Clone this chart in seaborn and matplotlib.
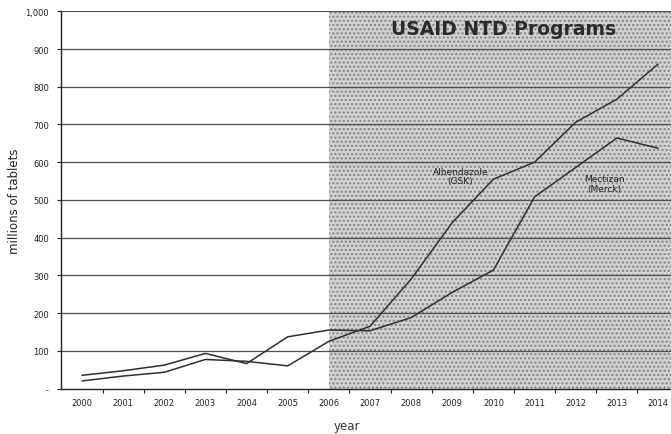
import matplotlib
matplotlib.use("Agg")
import matplotlib.pyplot as plt
import seaborn as sns
import pandas as pd
from matplotlib.ticker import FixedLocator

years = list(range(2000, 2015))
albendazole = [20, 33, 43, 77, 72, 60, 125, 165, 290, 440, 555, 600, 706, 767, 860]
mectizan = [35, 47, 62, 93, 66, 137, 155, 153, 188, 255, 314, 508, 586, 664, 637]
ytick_vals = [0, 100, 200, 300, 400, 500, 600, 700, 800, 900, 1000]
ytick_labels = ["-", "100", "200", "300", "400", "500", "600", "700", "800", "900", "1,000"]

df = pd.DataFrame({
    "year": years * 2,
    "tablets": albendazole + mectizan,
    "drug": ["Albendazole (GSK)"] * len(years) + ["Mectizan (Merck)"] * len(years),
})

sns.set_theme(style="white")
plt.rcParams["font.family"] = ["DejaVu Sans"]

fig = plt.figure(figsize=(6.71, 4.35), dpi=100)
W, H = 671, 435
left_px, right_px, top_px, bot_px = 61.4, 678.6, 12.3, 389.5
ax = fig.add_axes([left_px / W, 1 - bot_px / H, (right_px - left_px) / W, (bot_px - top_px) / H])

# shaded USAID period
ax.axvspan(2006, 2014.5, ymin=0, ymax=1, facecolor="#d2d2d2", edgecolor="#808080",
           hatch="....", linewidth=0, zorder=0)

for v in ytick_vals[1:]:
    ax.axhline(v, color="#505050", lw=0.9, zorder=1)

sns.lineplot(data=df, x="year", y="tablets", hue="drug",
             palette={"Albendazole (GSK)": "#2e2e2e", "Mectizan (Merck)": "#2e2e2e"},
             lw=1.1, legend=False, ax=ax, zorder=3)

ax.set_xlim(1999.5, 2014.5)
ax.set_ylim(0, 1000)
ax.set_xticks(years)
ax.set_xticklabels([str(y) for y in years], fontsize=6)
ax.xaxis.set_minor_locator(FixedLocator([y + 0.5 for y in years[:-1]]))
ax.set_yticks(ytick_vals)
ax.set_yticklabels(ytick_labels, fontsize=6)
ax.tick_params(axis="x", which="major", length=0, pad=7, colors="#222")
ax.tick_params(axis="x", which="minor", length=3, width=0.8, color="#222", bottom=True)
ax.tick_params(axis="y", which="major", length=3, width=0.8, color="#222", left=True, pad=6, colors="#222")

for s in ["top", "right"]:
    ax.spines[s].set_visible(False)
for s in ["left", "bottom"]:
    ax.spines[s].set_color("#222")
    ax.spines[s].set_linewidth(1.0)

ax.set_xlabel("year", fontsize=8.5, color="#333")
ax.xaxis.set_label_coords((347 - left_px) / (right_px - left_px), -0.082)
ax.set_ylabel("millions of tablets", fontsize=8.5, color="#222")
ax.yaxis.set_label_coords((21 - left_px) / (right_px - left_px), 0.5)

ax.text(2010.25, 955, "USAID NTD Programs", fontsize=13.5, fontweight="semibold",
        color="#2a2a2a", ha="center", va="center", zorder=4)
ax.text(2009.2, 563, "Albendazole\n(GSK)", fontsize=6.5, color="#222",
        ha="center", va="center", linespacing=1.1, zorder=4)
ax.text(2012.7, 544, "Mectizan\n(Merck)", fontsize=6.5, color="#222",
        ha="center", va="center", linespacing=1.1, zorder=4)

fig.savefig("out.png", dpi=100)
